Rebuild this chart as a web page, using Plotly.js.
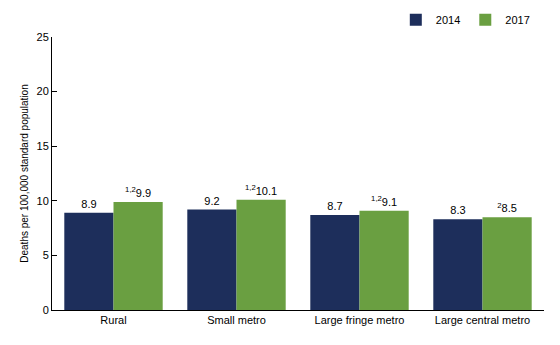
<!DOCTYPE html>
<html>
<head>
<meta charset="utf-8">
<script src="https://cdn.plot.ly/plotly-3.0.1.min.js"></script>
<style>html,body{margin:0;padding:0;background:#fff;}#chart{width:560px;height:345px;}</style>
</head>
<body>
<div id="chart"></div>
<script>
const categories = ["Rural", "Small metro", "Large fringe metro", "Large central metro"];
const values2014 = [8.9, 9.2, 8.7, 8.3];
const values2017 = [9.9, 10.1, 9.1, 8.5];
const notes2014 = ["", "", "", ""];
const notes2017 = ["1,2", "1,2", "1,2", "2"];
const yTicks = [0, 5, 10, 15, 20, 25];

function labels(vals, notes) {
  return vals.map((v, i) => (notes[i] ? "<sup>" + notes[i] + "</sup>" : "") + v.toFixed(1));
}

const font = "Liberation Sans, Arial, sans-serif";
const traces = [
  {type: "bar", name: "2014", x: categories, y: values2014,
   marker: {color: "#1d2e5b"}, text: labels(values2014, notes2014),
   textposition: "outside", cliponaxis: false,
   textfont: {size: 11, color: "#000", family: font}, hoverinfo: "none"},
  {type: "bar", name: "2017", x: categories, y: values2017,
   marker: {color: "#6a9f41"}, text: labels(values2017, notes2017),
   textposition: "outside", cliponaxis: false,
   textfont: {size: 11, color: "#000", family: font}, hoverinfo: "none"}
];

const layout = {
  width: 560, height: 345,
  margin: {l: 52, r: 16, t: 37, b: 35, autoexpand: false},
  paper_bgcolor: "#fff", plot_bgcolor: "#fff",
  font: {family: font, size: 11, color: "#000"},
  barmode: "group", bargap: 0.2, bargroupgap: 0,
  showlegend: true,
  legend: {orientation: "h", xref: "container", yref: "container",
           x: 0.955, xanchor: "right", y: 0.985, yanchor: "top",
           font: {size: 11, family: font}, traceorder: "normal", itemwidth: 30},
  xaxis: {showline: true, linecolor: "#000", linewidth: 1, ticks: "", showgrid: false,
          tickfont: {size: 11}, fixedrange: true, automargin: false},
  yaxis: {range: [0, 25], tickvals: yTicks, showline: true, linecolor: "#000", linewidth: 1,
          ticks: "inside", ticklen: 5, tickcolor: "#000", showgrid: false, zeroline: false,
          tickfont: {size: 11}, automargin: false,
          title: {text: "Deaths per 100,000 standard population", font: {size: 10}, standoff: 6}}
};

Plotly.newPlot("chart", traces, layout, {displayModeBar: false, staticPlot: true});
</script>
</body>
</html>
